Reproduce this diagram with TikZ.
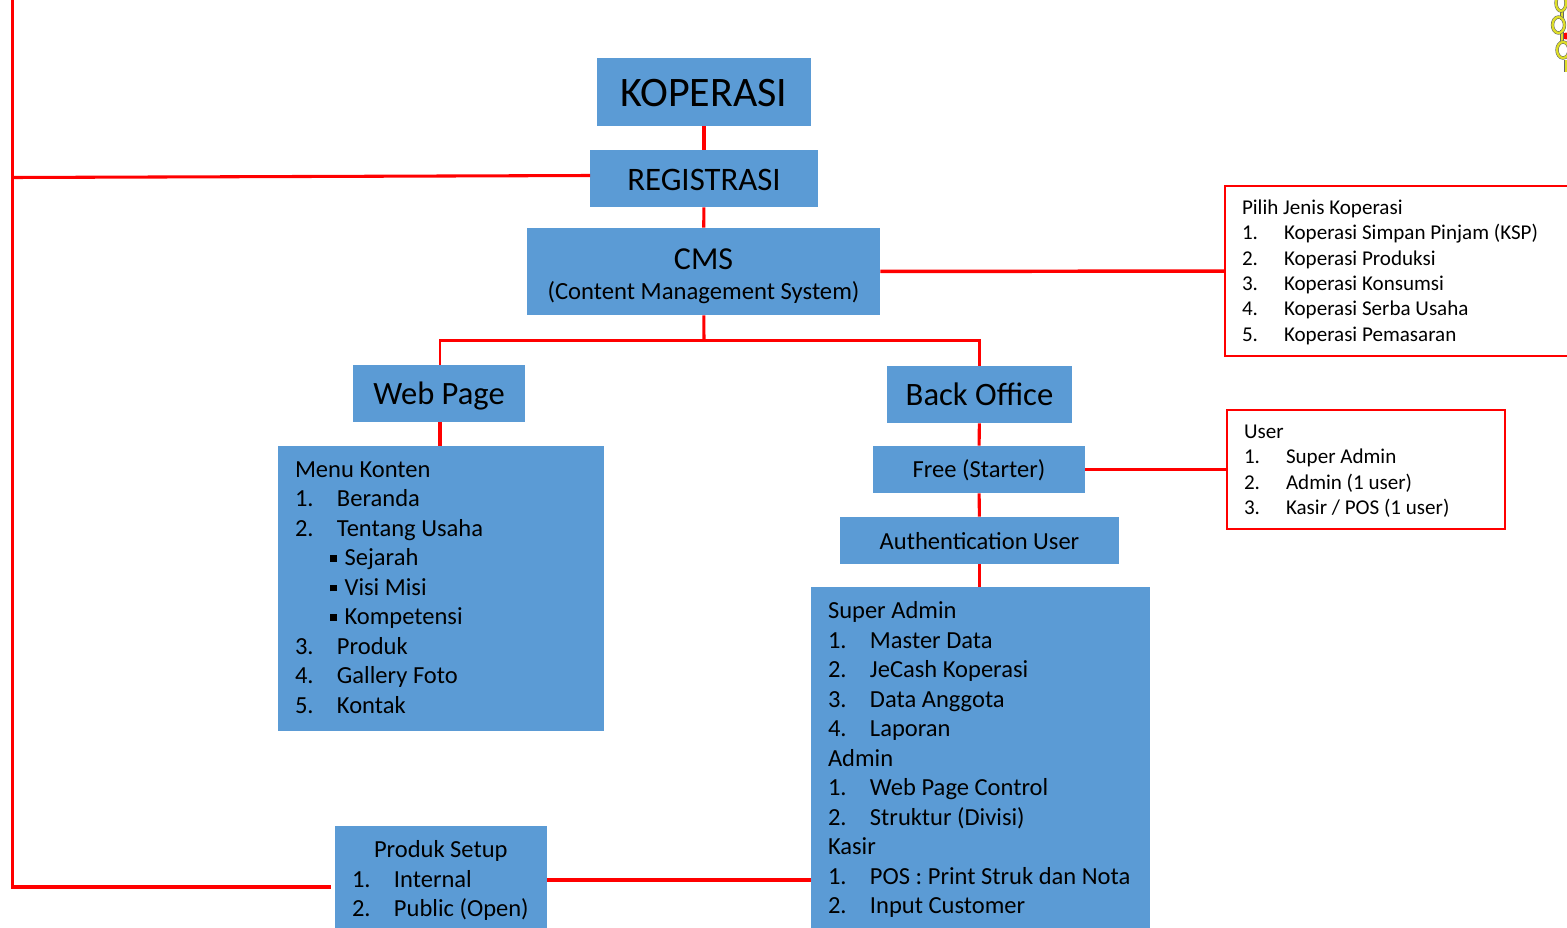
\documentclass[tikz,border=0pt]{standalone}
\usepackage{fontspec}
\setmainfont{Carlito}
\usetikzlibrary{positioning}

\definecolor{boxblue}{RGB}{91,155,213}
\definecolor{chainyellow}{RGB}{222,222,40}

\def\pxu{0.75pt}
\newcommand{\itm}[2]{\mbox{\makebox[31.5pt][l]{#1}#2}}
\newcommand{\subitm}[1]{\mbox{\hspace*{26.5pt}\raisebox{3pt}{\rule{5pt}{5pt}}\hspace{5.7pt}#1}}

\tikzset{
	bluebox/.style={fill=boxblue,inner sep=0pt,align=center,text=black},
	titlebox/.style={bluebox,text depth=0pt},
	listbox/.style={bluebox,align=flush left,font=\fontsize{18.4}{22.1}\selectfont},
	notebox/.style={draw=red,line width=1.1pt,fill=white,inner sep=0pt,align=flush left,text=black,font=\fontsize{15.8}{19}\selectfont},
	redline/.style={draw=red,line width=2.3pt},
	chainlink/.style={draw=black!60,double=chainyellow,double distance=1.7pt,line width=0.4pt}
}

\begin{document}
\begin{tikzpicture}[x=0.75pt,y=-0.75pt]

\useasboundingbox (0,0) rectangle (1567,928);

\node[titlebox,text height=21.8pt,minimum width=214*\pxu,minimum height=68*\pxu,font=\fontsize{31.5}{36}\selectfont] (koperasi) at (704,92) {KOPERASI};
\node[titlebox,text height=17.3pt,minimum width=228*\pxu,minimum height=57*\pxu,font=\fontsize{24.6}{28}\selectfont] (registrasi) at (704,178.5) {REGISTRASI};
\node[bluebox,minimum width=353*\pxu,minimum height=87*\pxu,font=\fontsize{18.5}{25}\selectfont] (cms) at (703.5,271.5) {\rule{0pt}{22.5pt}{\fontsize{24}{25}\selectfont CMS}\\[-2.2pt](Content Management System)};

\node[titlebox,text height=15.8pt,minimum width=172*\pxu,minimum height=57*\pxu,font=\fontsize{24.4}{28}\selectfont] (webpage) at (439,393.5) {Web Page};
\node[titlebox,text height=15.8pt,minimum width=185*\pxu,minimum height=57*\pxu,font=\fontsize{24.5}{28}\selectfont] (backoffice) at (979.5,394.5) {Back Office};

\node[listbox,minimum width=326*\pxu,minimum height=285*\pxu,text width=292*\pxu] (menukonten) at (441,588.5) {Menu Konten\\
\itm{1.}{Beranda}\\
\itm{2.}{Tentang Usaha}\\
\subitm{Sejarah}\\
\subitm{Visi Misi}\\
\subitm{Kompetensi}\\
\itm{3.}{Produk}\\
\itm{4.}{Gallery Foto}\\
\itm{5.}{Kontak}\rule[-1.5pt]{0pt}{1pt}};

\node[titlebox,text height=12pt,minimum width=212*\pxu,minimum height=47*\pxu,font=\fontsize{18.4}{22}\selectfont] (free) at (979,469.5) {Free (Starter)};
\node[titlebox,text height=14pt,minimum width=279*\pxu,minimum height=47*\pxu,font=\fontsize{18.4}{22}\selectfont] (authuser) at (979.5,540.5) {Authentication User};

\node[listbox,minimum width=339*\pxu,minimum height=341*\pxu,text width=305*\pxu] (superadmin) at (980.5,757.5) {\rule{0pt}{16pt}Super Admin\\
\itm{1.}{Master Data}\\
\itm{2.}{JeCash Koperasi}\\
\itm{3.}{Data Anggota}\\
\itm{4.}{Laporan}\\
Admin\\
\itm{1.}{Web Page Control}\\
\itm{2.}{Struktur (Divisi)}\\
Kasir\\
\itm{1.}{POS : Print Struk dan Nota}\\
\itm{2.}{Input Customer}};

\node[listbox,minimum width=212*\pxu,minimum height=102*\pxu,text width=178*\pxu] (produksetup) at (441,877) {\rule{0pt}{18pt}\hspace*{16.5pt}Produk Setup\\
\itm{1.}{Internal}\\
\itm{2.}{Public (Open)}};

\node[notebox,minimum width=352*\pxu,minimum height=170*\pxu,text width=318*\pxu] (jeniskoperasi) at (1401,271) {\rule{0pt}{12.8pt}Pilih Jenis Koperasi\\
\itm{1.}{Koperasi Simpan Pinjam (KSP)}\\
\itm{2.}{Koperasi Produksi}\\
\itm{3.}{Koperasi Konsumsi}\\
\itm{4.}{Koperasi Serba Usaha}\\
\itm{5.}{Koperasi Pemasaran}};

\node[notebox,minimum width=278*\pxu,minimum height=119*\pxu,text width=244*\pxu] (userlist) at (1366,469.5) {\rule{0pt}{12.5pt}User\\
\itm{1.}{Super Admin}\\
\itm{2.}{Admin (1 user)}\\
\itm{3.}{Kasir / POS (1 user)}};

% free ends of the connectors
\coordinate (cmsjoin) at (704,340.5);
\coordinate (regout) at (590,175.5);
\coordinate (lefttop) at (12.5,0);
\coordinate (leftreg) at (12.5,177.5);
\coordinate (leftbottom) at (12.5,887);
\coordinate (produkend) at (331,887);
\coordinate (produkout) at (547,880);
\coordinate (superin) at (811,880);

\draw[redline] (koperasi)--(registrasi);
\draw[redline] (registrasi)--(cms);
\draw[redline] (regout)--(leftreg);
\draw[redline] (lefttop)--(leftbottom)--(produkend);
\draw[redline] (cms)--(cmsjoin);
\draw[redline,line width=2pt] ([xshift=0.75pt]webpage.north)|-(cmsjoin)-|(backoffice.north);
\draw[redline,line width=2.6pt] (cms)--(jeniskoperasi);
\draw[redline] ([xshift=0.75pt]webpage.south)--([xshift=0.75pt]webpage.south|-menukonten.north);
\draw[redline] (backoffice)--(free);
\draw[redline] (free)--(authuser);
\draw[redline] (authuser.south)--(authuser.south|-superadmin.north);
\draw[redline] (free)--(userlist);
\draw[redline] (produkout)--(superin);

% chain in the corner
\fill[color=red] (1566,36) circle[radius=3.5];
\draw[chainlink] (1562,10)--(1562,20);
\draw[chainlink] (1562,30)--(1562,42);
\draw[chainlink] (1561,3) ellipse[x radius=5,y radius=8];
\draw[chainlink] (1558.5,25) ellipse[x radius=6,y radius=8];
\draw[chainlink] (1563,50) ellipse[x radius=6,y radius=8];
\draw[chainlink] (1566,60)--(1566,72);

\end{tikzpicture}
\end{document}
